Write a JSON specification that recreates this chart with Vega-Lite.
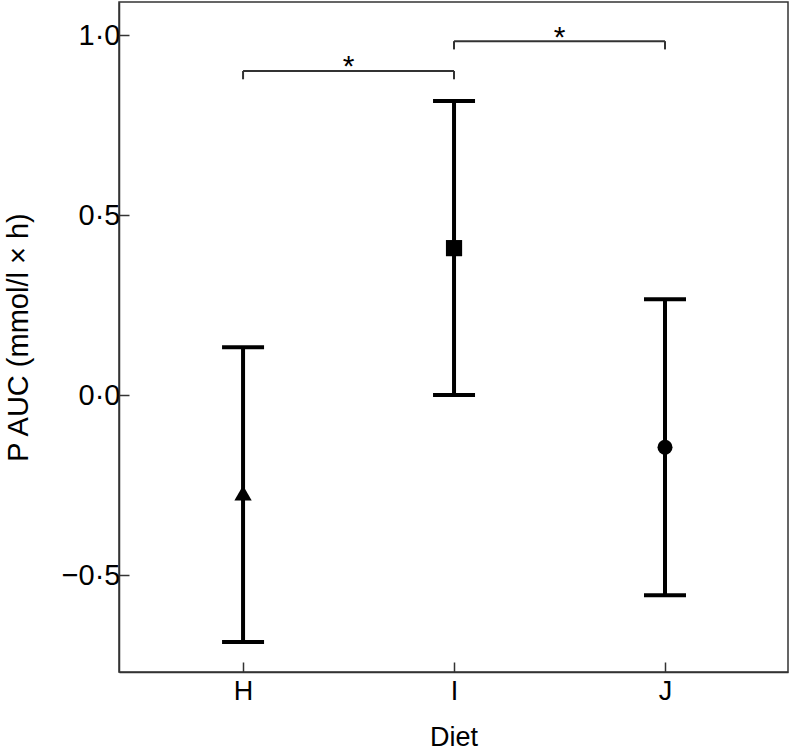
{
  "$schema": "https://vega.github.io/schema/vega-lite/v6.json",
  "autosize": "none",
  "width": 669,
  "height": 670,
  "padding": {"left": 119, "top": 2, "right": 4, "bottom": 84},
  "background": "white",
  "config": {
    "view": {"stroke": "#333", "strokeWidth": 1.5},
    "font": "Liberation Sans"
  },
  "datasets": {
    "diets": [
      {"diet": "H", "pos": 1, "mean": -0.272, "lo": -0.686, "hi": 0.133},
      {"diet": "I", "pos": 2, "mean": 0.408, "lo": 0.0, "hi": 0.817},
      {"diet": "J", "pos": 3, "mean": -0.145, "lo": -0.556, "hi": 0.266}
    ],
    "brackets": [
      {"from": 1, "to": 2, "mid": 1.5, "level": 0.9, "end": 0.877, "star_y": 0.886, "label": "*"},
      {"from": 2, "to": 3, "mid": 2.5, "level": 0.983, "end": 0.96, "star_y": 0.968, "label": "*"}
    ]
  },
  "layer": [
    {
      "data": {"name": "diets"},
      "mark": {"type": "rule", "color": "black", "strokeWidth": 4},
      "encoding": {
        "x": {
          "field": "pos",
          "type": "quantitative",
          "scale": {"domain": [0.412, 3.583], "nice": false, "zero": false},
          "axis": {
            "title": "Diet",
            "values": [1, 2, 3],
            "grid": false,
            "labelExpr": "datum.value == 1 ? 'H' : datum.value == 2 ? 'I' : 'J'",
            "domainColor": "#333",
            "domainWidth": 1.5,
            "ticks": true,
            "tickColor": "#333",
            "tickWidth": 1.5,
            "tickSize": -10,
            "labelFont": "Liberation Sans",
            "labelFontSize": 27,
            "labelColor": "black",
            "labelPadding": 16,
            "titleFont": "Liberation Sans",
            "titleFontSize": 27,
            "titleFontWeight": "normal",
            "titleColor": "black",
            "titlePadding": 20
          }
        },
        "y": {
          "field": "lo",
          "type": "quantitative",
          "scale": {"domain": [-0.7694, 1.0917], "nice": false, "zero": false},
          "axis": {
            "title": "P AUC (mmol/l × h)",
            "values": [-0.5, 0, 0.5, 1],
            "grid": false,
            "labelExpr": "replace(format(datum.value, '.1f'), '.', '·')",
            "domainColor": "#333",
            "domainWidth": 1.5,
            "ticks": true,
            "tickColor": "#333",
            "tickWidth": 1.5,
            "tickSize": -10,
            "labelFont": "Liberation Sans",
            "labelFontSize": 29,
            "labelColor": "black",
            "labelPadding": 9,
            "titleFont": "Liberation Sans",
            "titleFontSize": 29,
            "titleFontWeight": "normal",
            "titleColor": "black",
            "titlePadding": 28
          }
        },
        "y2": {"field": "hi"}
      }
    },
    {
      "data": {"name": "diets"},
      "mark": {"type": "tick", "orient": "horizontal", "color": "black", "size": 42, "thickness": 4, "opacity": 1},
      "encoding": {
        "x": {"field": "pos", "type": "quantitative"},
        "y": {"field": "lo", "type": "quantitative"}
      }
    },
    {
      "data": {"name": "diets"},
      "mark": {"type": "tick", "orient": "horizontal", "color": "black", "size": 42, "thickness": 4, "opacity": 1},
      "encoding": {
        "x": {"field": "pos", "type": "quantitative"},
        "y": {"field": "hi", "type": "quantitative"}
      }
    },
    {
      "data": {"name": "diets"},
      "mark": {"type": "point", "filled": true, "color": "black", "opacity": 1},
      "encoding": {
        "x": {"field": "pos", "type": "quantitative"},
        "y": {"field": "mean", "type": "quantitative"},
        "shape": {
          "field": "diet",
          "type": "nominal",
          "scale": {"domain": ["H", "I", "J"], "range": ["triangle-up", "square", "circle"]},
          "legend": null
        },
        "size": {
          "field": "diet",
          "type": "nominal",
          "scale": {"domain": ["H", "I", "J"], "range": [300, 225, 200]},
          "legend": null
        }
      }
    },
    {
      "data": {"name": "brackets"},
      "mark": {"type": "rule", "color": "#333", "strokeWidth": 2},
      "encoding": {
        "x": {"field": "from", "type": "quantitative"},
        "x2": {"field": "to"},
        "y": {"field": "level", "type": "quantitative"}
      }
    },
    {
      "data": {"name": "brackets"},
      "mark": {"type": "rule", "color": "#333", "strokeWidth": 2},
      "encoding": {
        "x": {"field": "from", "type": "quantitative"},
        "y": {"field": "level", "type": "quantitative"},
        "y2": {"field": "end"}
      }
    },
    {
      "data": {"name": "brackets"},
      "mark": {"type": "rule", "color": "#333", "strokeWidth": 2},
      "encoding": {
        "x": {"field": "to", "type": "quantitative"},
        "y": {"field": "level", "type": "quantitative"},
        "y2": {"field": "end"}
      }
    },
    {
      "data": {"name": "brackets"},
      "mark": {"type": "text", "font": "Liberation Sans", "fontSize": 30, "baseline": "alphabetic", "align": "center", "color": "black"},
      "encoding": {
        "x": {"field": "mid", "type": "quantitative"},
        "y": {"field": "star_y", "type": "quantitative"},
        "text": {"field": "label"}
      }
    }
  ]
}
